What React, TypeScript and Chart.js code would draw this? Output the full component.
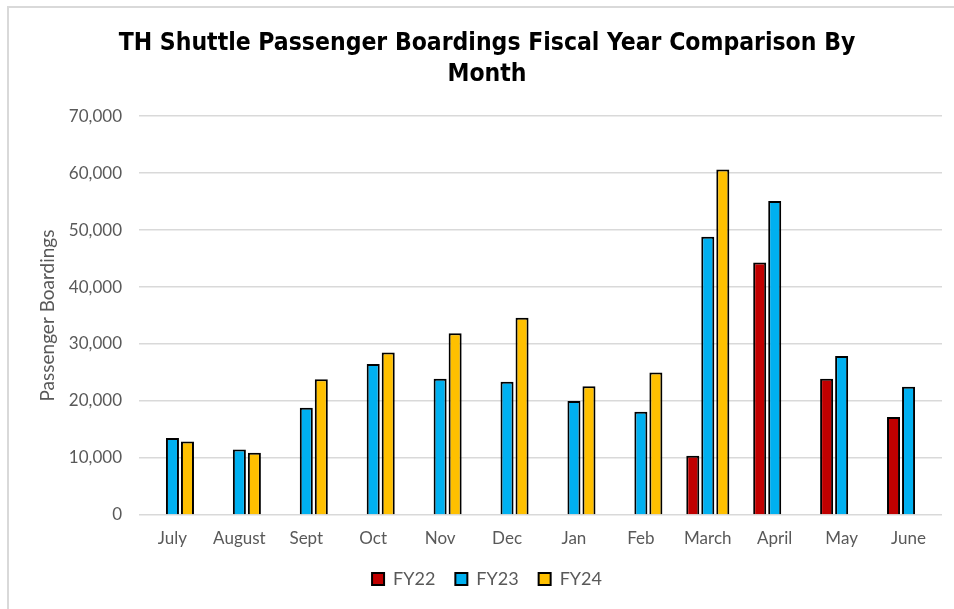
import React, { useEffect, useRef } from "react";
import { Chart, registerables } from "chart.js";

Chart.register(...registerables);

const months = ["July", "August", "Sept", "Oct", "Nov", "Dec", "Jan", "Feb", "March", "April", "May", "June"];
const fy22: (number | null)[] = [null, null, null, null, null, null, null, null, 10400, 44300, 23900, 17200];
const fy23: (number | null)[] = [13500, 11500, 18800, 26500, 23900, 23400, 20000, 18100, 48800, 55100, 27900, 22500];
const fy24: (number | null)[] = [12900, 10900, 23800, 28500, 31900, 34600, 22600, 25000, 60600, null, null, null];
const seriesNames = ["FY22", "FY23", "FY24"];
const seriesColors = ["#C00000", "#00B0F0", "#FFC000"];
const titleLines = ["TH Shuttle Passenger Boardings Fiscal Year Comparison By", "Month"];
const yTitle = "Passenger Boardings";

const bodyFont = "Lato, 'Noto Sans', sans-serif";
const titleFont = "'DejaVu Sans Condensed', 'DejaVu Sans', sans-serif";

export default function App() {
  const ref = useRef<HTMLCanvasElement | null>(null);
  useEffect(() => {
    if (!ref.current) return;
    const data = [fy22, fy23, fy24];
    const chart = new Chart(ref.current, {
      type: "bar",
      data: {
        labels: months,
        datasets: seriesNames.map((n, i) => ({
          label: n,
          data: data[i],
          backgroundColor: seriesColors[i],
          borderColor: "#000000",
          borderWidth: 2,
          categoryPercentage: 0.673,
          barPercentage: 0.867,
        })),
      },
      options: {
        responsive: false,
        animation: false,
        maintainAspectRatio: false,
        layout: { padding: { left: 32, right: 12, top: 0, bottom: 11 } },
        plugins: {
          title: {
            display: true,
            text: titleLines,
            color: "#000000",
            font: { family: titleFont, size: 24.5, weight: "bold", lineHeight: 1.27 },
            padding: { top: 28, bottom: 25.8 },
          },
          legend: {
            position: "bottom",
            labels: {
              color: "#595959",
              font: { family: bodyFont, size: 18 },
              boxWidth: 12,
              boxHeight: 12,
              padding: 20,
            },
          },
          tooltip: { enabled: false },
        },
        scales: {
          x: {
            grid: { display: false, drawTicks: false },
            border: { display: false },
            ticks: { color: "#595959", font: { family: bodyFont, size: 17 }, padding: 13 },
            afterFit: (scale: any) => {
              scale.height = 35;
            },
          },
          y: {
            min: 0,
            max: 70000,
            ticks: { stepSize: 10000, color: "#595959", font: { family: bodyFont, size: 17 }, padding: 17 },
            grid: { color: "#d9d9d9", lineWidth: 1.5, drawTicks: false },
            border: { display: false },
            title: {
              display: true,
              text: yTitle,
              color: "#595959",
              font: { family: bodyFont, size: 19 },
              padding: { top: 4, bottom: 0 },
            },
            afterFit: (scale: any) => {
              scale.width = 107;
            },
          },
        },
      },
    });
    return () => chart.destroy();
  }, []);
  return (
    <div style={{ position: "fixed", left: 0, top: 0, width: 954, height: 609, background: "#ffffff", overflow: "hidden" }}>
      <div style={{ position: "absolute", left: 7, top: 6, width: 1000, height: 700, border: "2px solid #d9d9d9" }} />
      <canvas ref={ref} width={954} height={609} style={{ position: "absolute", left: 0, top: 0 }} />
    </div>
  );
}
